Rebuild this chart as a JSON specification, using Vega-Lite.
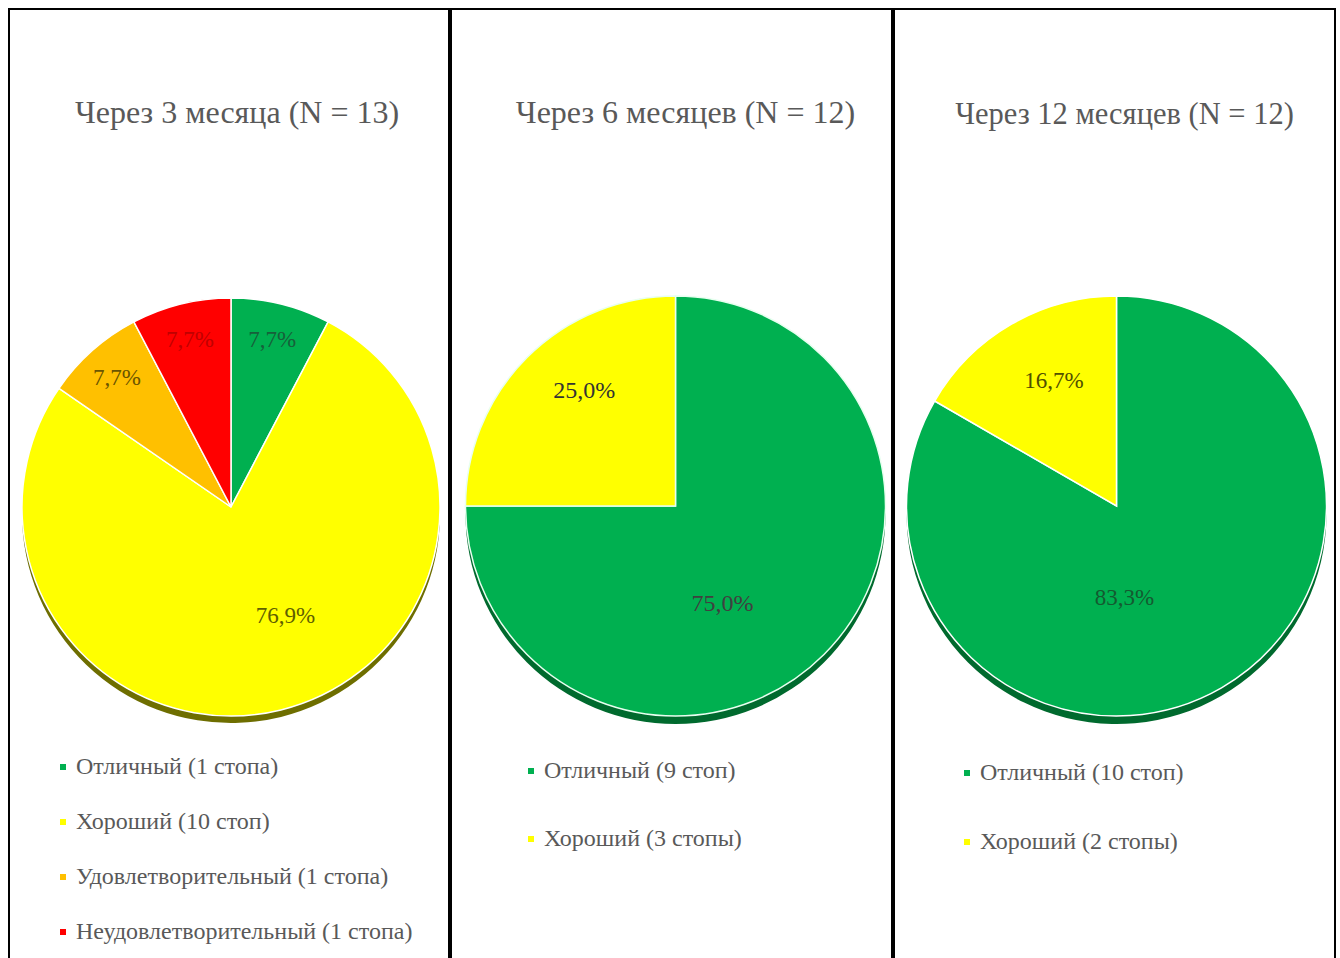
{
  "$schema": "https://vega.github.io/schema/vega-lite/v6.json",
  "padding": {"left": 8, "top": 8, "right": 0, "bottom": 0},
  "spacing": 0,
  "background": "white",
  "config": {
    "view": {"stroke": "#000", "strokeWidth": 2},
    "font": "Liberation Serif",
    "title": {"font": "Liberation Serif", "fontSize": 32, "fontWeight": "normal", "color": "#595959", "offset": -121, "baseline": "alphabetic", "anchor": "middle"},
    "legend": {"orient": "none", "title": null, "symbolType": "square", "symbolSize": 36, "symbolStrokeWidth": 0, "labelFont": "Liberation Serif", "labelFontSize": 24, "labelColor": "#595959", "labelLimit": 0, "labelOffset": 1}
  },
  "datasets": {
    "m3": [
      {"cat": "Отличный (1 стопа)", "n": 1, "k": 1, "pct": "7,7%"},
      {"cat": "Хороший (10 стоп)", "n": 10, "k": 2, "pct": "76,9%"},
      {"cat": "Удовлетворительный (1 стопа)", "n": 1, "k": 3, "pct": "7,7%"},
      {"cat": "Неудовлетворительный (1 стопа)", "n": 1, "k": 4, "pct": "7,7%"}
    ],
    "m6": [
      {"cat": "Отличный (9 стоп)", "n": 9, "k": 1, "pct": "75,0%"},
      {"cat": "Хороший (3 стопы)", "n": 3, "k": 2, "pct": "25,0%"}
    ],
    "m12": [
      {"cat": "Отличный (10 стоп)", "n": 10, "k": 1, "pct": "83,3%"},
      {"cat": "Хороший (2 стопы)", "n": 2, "k": 2, "pct": "16,7%"}
    ]
  },
  "hconcat": [
    {
      "width": 440, "height": 950,
      "view": {"stroke": "#000", "strokeWidth": 2},
      "title": {"text": "Через 3 месяца (N = 13)", "dx": 8},
      "data": {"name": "m3"},
      "encoding": {
        "theta": {"field": "n", "type": "quantitative", "stack": true},
        "order": {"field": "k", "type": "quantitative"}
      },
      "layer": [
        {"mark": {"type": "arc", "outerRadius": 209, "xOffset": 2, "yOffset": 30, "color": "#6e6e00"}},
        {
          "mark": {"type": "arc", "outerRadius": 209, "xOffset": 2, "yOffset": 23, "stroke": "#ffffff", "strokeWidth": 1.5},
          "encoding": {
            "color": {"field": "cat", "type": "nominal",
              "scale": {"domain": ["Отличный (1 стопа)", "Хороший (10 стоп)", "Удовлетворительный (1 стопа)", "Неудовлетворительный (1 стопа)"], "range": ["#00b050", "#ffff00", "#ffc000", "#ff0000"]},
              "legend": {"legendX": 42, "legendY": 746, "rowPadding": 31}}
          }
        },
        {
          "mark": {"type": "text", "radius": 172, "xOffset": 2, "yOffset": 23, "fontSize": 23, "font": "Liberation Serif"},
          "encoding": {
            "text": {"field": "pct"},
            "opacity": {"condition": {"test": "datum.k == 2", "value": 0}, "value": 1},
            "color": {"condition": [{"test": "datum.k == 1", "value": "#17603a"}, {"test": "datum.k == 3", "value": "#6b5500"}, {"test": "datum.k == 4", "value": "#c00000"}], "value": "#5f5f00"}
          }
        },
        {
          "mark": {"type": "text", "radius": 122, "thetaOffset": -0.22, "xOffset": 2, "yOffset": 23, "fontSize": 23, "font": "Liberation Serif", "color": "#5f5f00"},
          "encoding": {
            "text": {"field": "pct"},
            "opacity": {"condition": {"test": "datum.k == 2", "value": 1}, "value": 0}
          }
        }
      ]
    },
    {
      "width": 441, "height": 950,
      "view": {"stroke": "#000", "strokeWidth": 2},
      "title": {"text": "Через 6 месяцев (N = 12)", "dx": 14},
      "data": {"name": "m6"},
      "encoding": {
        "theta": {"field": "n", "type": "quantitative", "stack": true},
        "order": {"field": "k", "type": "quantitative"}
      },
      "layer": [
        {"mark": {"type": "arc", "outerRadius": 210, "xOffset": 4, "yOffset": 30, "color": "#006a2e"}},
        {
          "mark": {"type": "arc", "outerRadius": 210, "xOffset": 4, "yOffset": 22, "stroke": "#e8fff0", "strokeWidth": 1.5},
          "encoding": {
            "color": {"field": "cat", "type": "nominal",
              "scale": {"domain": ["Отличный (9 стоп)", "Хороший (3 стопы)"], "range": ["#00b050", "#ffff00"]},
              "legend": {"legendX": 68, "legendY": 750, "rowPadding": 44}}
          }
        },
        {
          "mark": {"type": "text", "radius": 147, "thetaOffset": 0.115, "xOffset": 4, "yOffset": 22, "fontSize": 24, "font": "Liberation Serif", "color": "#333333"},
          "encoding": {
            "text": {"field": "pct"},
            "opacity": {"condition": {"test": "datum.k == 2", "value": 1}, "value": 0}
          }
        },
        {
          "mark": {"type": "text", "radius": 109, "thetaOffset": 0.34, "xOffset": 4, "yOffset": 22, "fontSize": 24, "font": "Liberation Serif", "color": "#404040"},
          "encoding": {
            "text": {"field": "pct"},
            "opacity": {"condition": {"test": "datum.k == 1", "value": 1}, "value": 0}
          }
        }
      ]
    },
    {
      "width": 441, "height": 950,
      "view": {"stroke": "#000", "strokeWidth": 2},
      "title": {"text": "Через 12 месяцев (N = 12)", "dx": 10, "fontSize": 30.5},
      "data": {"name": "m12"},
      "encoding": {
        "theta": {"field": "n", "type": "quantitative", "stack": true},
        "order": {"field": "k", "type": "quantitative"}
      },
      "layer": [
        {"mark": {"type": "arc", "outerRadius": 210, "xOffset": 2, "yOffset": 30, "color": "#006a2e"}},
        {
          "mark": {"type": "arc", "outerRadius": 210, "xOffset": 2, "yOffset": 22, "stroke": "#ffffff", "strokeWidth": 1.5},
          "encoding": {
            "color": {"field": "cat", "type": "nominal",
              "scale": {"domain": ["Отличный (10 стоп)", "Хороший (2 стопы)"], "range": ["#00b050", "#ffff00"]},
              "legend": {"legendX": 61, "legendY": 752, "rowPadding": 45}}
          }
        },
        {
          "mark": {"type": "text", "radius": 140, "thetaOffset": 0.06, "xOffset": 2, "yOffset": 22, "fontSize": 23, "font": "Liberation Serif", "color": "#505000"},
          "encoding": {
            "text": {"field": "pct"},
            "opacity": {"condition": {"test": "datum.k == 2", "value": 1}, "value": 0}
          }
        },
        {
          "mark": {"type": "text", "radius": 92, "thetaOffset": 0.436, "xOffset": 2, "yOffset": 22, "fontSize": 23, "font": "Liberation Serif", "color": "#145a30"},
          "encoding": {
            "text": {"field": "pct"},
            "opacity": {"condition": {"test": "datum.k == 1", "value": 1}, "value": 0}
          }
        }
      ]
    }
  ],
  "resolve": {"scale": {"color": "independent", "theta": "independent"}}
}
